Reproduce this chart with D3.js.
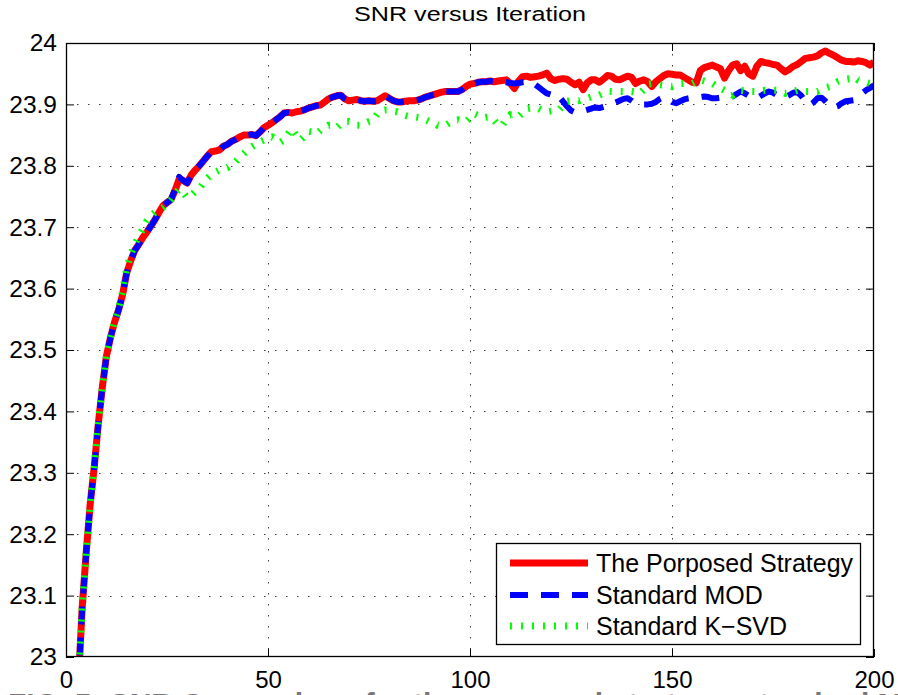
<!DOCTYPE html>
<html><head><meta charset="utf-8">
<script src="https://cdn.jsdelivr.net/npm/d3@7"></script>
<style>
html,body{margin:0;padding:0;background:#fff;overflow:hidden;}
text{font-family:"Liberation Sans",Arial,Helvetica,sans-serif;}
</style></head>
<body>
<svg id="chart" width="898" height="695"></svg>
<script>
const title = "SNR versus Iteration";
const caption = "FIG. 5: SNR Comparison for the proposed strategy, standard MOD and standard K-SVD";
const seriesNames = ["The Porposed Strategy", "Standard MOD", "Standard K\u2212SVD"];
const xTicks = [0, 50, 100, 150, 200];
const yTicks = [23, 23.1, 23.2, 23.3, 23.4, 23.5, 23.6, 23.7, 23.8, 23.9, 24];
const yTickLabels = ["23","23.1","23.2","23.3","23.4","23.5","23.6","23.7","23.8","23.9","24"];

// iterations 1..200
const proposed = [
22.70,22.82,22.95,23.08,23.17,23.25,23.31,23.38,23.44,23.49,
23.52,23.545,23.565,23.59,23.625,23.645,23.662,23.672,23.683,23.692,
23.702,23.712,23.724,23.735,23.74,23.745,23.76,23.778,23.776,23.772,
23.785,23.793,23.80,23.808,23.816,23.823,23.824,23.826,23.832,23.835,
23.84,23.843,23.847,23.85,23.85,23.851,23.849,23.855,23.862,23.866,
23.87,23.875,23.88,23.886,23.887,23.886,23.888,23.889,23.891,23.894,
23.896,23.898,23.899,23.904,23.909,23.912,23.914,23.915,23.909,23.906,
23.907,23.908,23.906,23.905,23.906,23.905,23.906,23.91,23.914,23.91,
23.906,23.904,23.904,23.905,23.906,23.906,23.907,23.909,23.912,23.914,
23.916,23.918,23.92,23.921,23.921,23.921,23.921,23.924,23.929,23.933,
23.934,23.936,23.937,23.937,23.938,23.937,23.938,23.939,23.94,23.934,
23.926,23.938,23.945,23.946,23.944,23.945,23.946,23.948,23.951,23.942,
23.939,23.941,23.942,23.941,23.936,23.932,23.936,23.924,23.935,23.94,
23.94,23.936,23.941,23.947,23.946,23.941,23.94,23.943,23.946,23.944,
23.934,23.938,23.94,23.937,23.929,23.937,23.942,23.947,23.95,23.949,
23.948,23.948,23.944,23.94,23.936,23.935,23.955,23.96,23.962,23.964,
23.961,23.958,23.943,23.955,23.964,23.966,23.955,23.962,23.95,23.946,
23.962,23.97,23.968,23.967,23.965,23.964,23.958,23.953,23.957,23.962,
23.965,23.97,23.975,23.976,23.977,23.979,23.984,23.987,23.983,23.98,
23.976,23.972,23.97,23.97,23.969,23.971,23.97,23.968,23.964,23.969];

const mod = [
22.70,22.82,22.95,23.08,23.17,23.25,23.31,23.38,23.44,23.49,
23.52,23.545,23.565,23.59,23.625,23.645,23.662,23.672,23.683,23.692,
23.702,23.712,23.724,23.735,23.74,23.745,23.762,23.782,23.776,23.772,
23.785,23.793,23.80,23.808,23.816,23.823,23.824,23.826,23.832,23.835,
23.84,23.843,23.847,23.85,23.85,23.851,23.849,23.855,23.862,23.866,
23.87,23.875,23.88,23.886,23.887,23.886,23.888,23.889,23.891,23.894,
23.896,23.898,23.899,23.904,23.909,23.912,23.914,23.915,23.909,23.906,
23.907,23.908,23.906,23.905,23.906,23.905,23.906,23.91,23.914,23.91,
23.906,23.904,23.904,23.905,23.906,23.906,23.907,23.909,23.912,23.914,
23.916,23.918,23.92,23.921,23.921,23.921,23.921,23.924,23.929,23.933,
23.934,23.936,23.937,23.937,23.938,23.937,23.938,23.937,23.936,23.935,
23.934,23.935,23.936,23.937,23.937,23.933,23.928,23.923,23.918,23.916,
23.918,23.913,23.905,23.897,23.89,23.887,23.888,23.889,23.891,23.893,
23.895,23.894,23.896,23.898,23.9,23.903,23.906,23.909,23.91,23.906,
23.901,23.9,23.9,23.9,23.901,23.904,23.909,23.912,23.909,23.904,
23.902,23.905,23.908,23.91,23.911,23.912,23.912,23.913,23.912,23.91,
23.91,23.911,23.912,23.912,23.913,23.917,23.921,23.918,23.914,23.911,
23.91,23.914,23.918,23.921,23.919,23.915,23.912,23.912,23.915,23.919,
23.92,23.914,23.905,23.899,23.903,23.91,23.911,23.905,23.898,23.895,
23.897,23.902,23.905,23.906,23.907,23.912,23.918,23.923,23.927,23.931];

const ksvd = [
22.70,22.82,22.95,23.08,23.17,23.25,23.31,23.38,23.44,23.49,
23.52,23.547,23.568,23.595,23.632,23.655,23.672,23.685,23.697,23.71,
23.718,23.724,23.728,23.732,23.738,23.745,23.755,23.762,23.756,23.748,
23.752,23.758,23.763,23.772,23.78,23.786,23.79,23.793,23.795,23.797,
23.802,23.807,23.814,23.82,23.826,23.831,23.835,23.839,23.842,23.846,
23.847,23.843,23.838,23.842,23.852,23.86,23.85,23.842,23.848,23.856,
23.855,23.852,23.858,23.862,23.866,23.866,23.862,23.868,23.872,23.872,
23.87,23.866,23.866,23.869,23.872,23.874,23.884,23.89,23.891,23.891,
23.889,23.888,23.885,23.882,23.88,23.88,23.879,23.878,23.875,23.872,
23.87,23.866,23.865,23.866,23.87,23.874,23.875,23.873,23.872,23.878,
23.885,23.882,23.878,23.879,23.88,23.874,23.866,23.866,23.876,23.883,
23.882,23.88,23.886,23.893,23.894,23.894,23.893,23.89,23.888,23.889,
23.89,23.891,23.898,23.905,23.906,23.907,23.906,23.908,23.91,23.912,
23.914,23.915,23.918,23.921,23.921,23.921,23.921,23.921,23.921,23.921,
23.92,23.918,23.924,23.933,23.934,23.933,23.932,23.931,23.93,23.929,
23.931,23.934,23.934,23.934,23.934,23.937,23.94,23.938,23.936,23.934,
23.93,23.926,23.923,23.918,23.915,23.92,23.923,23.922,23.921,23.921,
23.921,23.922,23.923,23.923,23.923,23.923,23.921,23.918,23.919,23.921,
23.923,23.922,23.921,23.921,23.921,23.921,23.924,23.927,23.929,23.933,
23.937,23.939,23.941,23.942,23.945,23.94,23.938,23.936,23.934,23.932];

const colors = ["#ff0000", "#0000ff", "#00ff00"];

const svg = d3.select("#chart");
const L = 66, R = 874, T = 43, B = 657;
const x = d3.scaleLinear().domain([0, 200]).range([L, R]);
const y = d3.scaleLinear().domain([23, 24]).range([B, T]);

svg.append("rect").attr("width", 898).attr("height", 695).attr("fill", "#fff");

// grid
const grid = svg.append("g").attr("stroke", "#000").attr("stroke-width", 1)
  .attr("stroke-dasharray", "1.5,9.5").attr("opacity", 0.75);
xTicks.slice(1, -1).forEach(v => grid.append("line")
  .attr("x1", Math.round(x(v)) + 0.5).attr("x2", Math.round(x(v)) + 0.5)
  .attr("y1", T).attr("y2", B));
yTicks.slice(1, -1).forEach(v => grid.append("line")
  .attr("y1", Math.round(y(v)) + 0.5).attr("y2", Math.round(y(v)) + 0.5)
  .attr("x1", L).attr("x2", R));

// clip
svg.append("clipPath").attr("id", "clip").append("rect")
  .attr("x", L).attr("y", T).attr("width", R - L).attr("height", B - T);

const line = d3.line().x((d, i) => x(i + 1)).y(d => y(d));
const plot = svg.append("g").attr("clip-path", "url(#clip)");
plot.append("path").datum(proposed).attr("d", line).attr("fill", "none")
  .attr("stroke", colors[0]).attr("stroke-width", 7).attr("stroke-linejoin", "round");
plot.append("path").datum(mod).attr("d", line).attr("fill", "none")
  .attr("stroke", colors[1]).attr("stroke-width", 6).attr("stroke-dasharray", "18,13")
  .attr("stroke-linejoin", "round");
plot.append("path").datum(ksvd).attr("d", line).attr("fill", "none")
  .attr("stroke", colors[2]).attr("stroke-width", 7).attr("stroke-dasharray", "2,9");

// axes box
svg.append("rect").attr("x", L + 0.5).attr("y", T + 0.5).attr("width", R - L - 1).attr("height", B - T - 1)
  .attr("fill", "none").attr("stroke", "#000").attr("stroke-width", 1.3);

// axes with ticks (inward)
const tl = 8;
svg.append("g").attr("transform", `translate(0,${B})`)
  .call(d3.axisBottom(x).tickValues(xTicks).tickSize(-tl).tickPadding(14).tickFormat(d3.format("d")))
  .call(g => { g.select(".domain").remove(); g.selectAll("text").attr("font-size", 24).attr("fill", "#000")
    .attr("font-family", "Liberation Sans, Arial, sans-serif"); });
svg.append("g").attr("transform", `translate(0,${T})`)
  .call(d3.axisTop(x).tickValues(xTicks).tickSize(-tl).tickFormat(""))
  .call(g => g.select(".domain").remove());
svg.append("g").attr("transform", `translate(${L},0)`)
  .call(d3.axisLeft(y).tickValues(yTicks).tickSize(-tl).tickPadding(9).tickFormat((d, i) => yTickLabels[i]))
  .call(g => { g.select(".domain").remove(); g.selectAll("text").attr("font-size", 24.5).attr("fill", "#000")
    .attr("font-family", "Liberation Sans, Arial, sans-serif"); });
svg.append("g").attr("transform", `translate(${R},0)`)
  .call(d3.axisRight(y).tickValues(yTicks).tickSize(-tl).tickFormat(""))
  .call(g => g.select(".domain").remove());

// title
svg.append("text").attr("x", (L + R) / 2).attr("y", 21).attr("text-anchor", "middle")
  .attr("font-size", 20.5).attr("fill", "#000")
  .attr("textLength", 232).attr("lengthAdjust", "spacingAndGlyphs").text(title);

// legend
const lg = svg.append("g");
lg.append("rect").attr("x", 496.5).attr("y", 543.5).attr("width", 364).attr("height", 101)
  .attr("fill", "#fff").attr("stroke", "#000").attr("stroke-width", 1.3);
const rows = [563, 595, 626];
const styles = [{w: 7, d: null}, {w: 6, d: "18,13"}, {w: 7, d: "2,9"}];
seriesNames.forEach((n, i) => {
  lg.append("line").attr("x1", 510).attr("x2", 588).attr("y1", rows[i]).attr("y2", rows[i])
    .attr("stroke", colors[i]).attr("stroke-width", styles[i].w)
    .attr("stroke-dasharray", styles[i].d);
  lg.append("text").attr("x", 596).attr("y", rows[i]).attr("dy", "0.36em")
    .attr("font-size", 25).attr("fill", "#000").text(n);
});

// cut-off caption at bottom edge (only its top shows, as in the reference)
svg.append("text").attr("x", 8).attr("y", 714).attr("font-family", "Liberation Serif, Times New Roman, serif")
  .attr("font-size", 30).attr("font-weight", "bold").attr("fill", "#777").text(caption);
</script>
</body></html>
